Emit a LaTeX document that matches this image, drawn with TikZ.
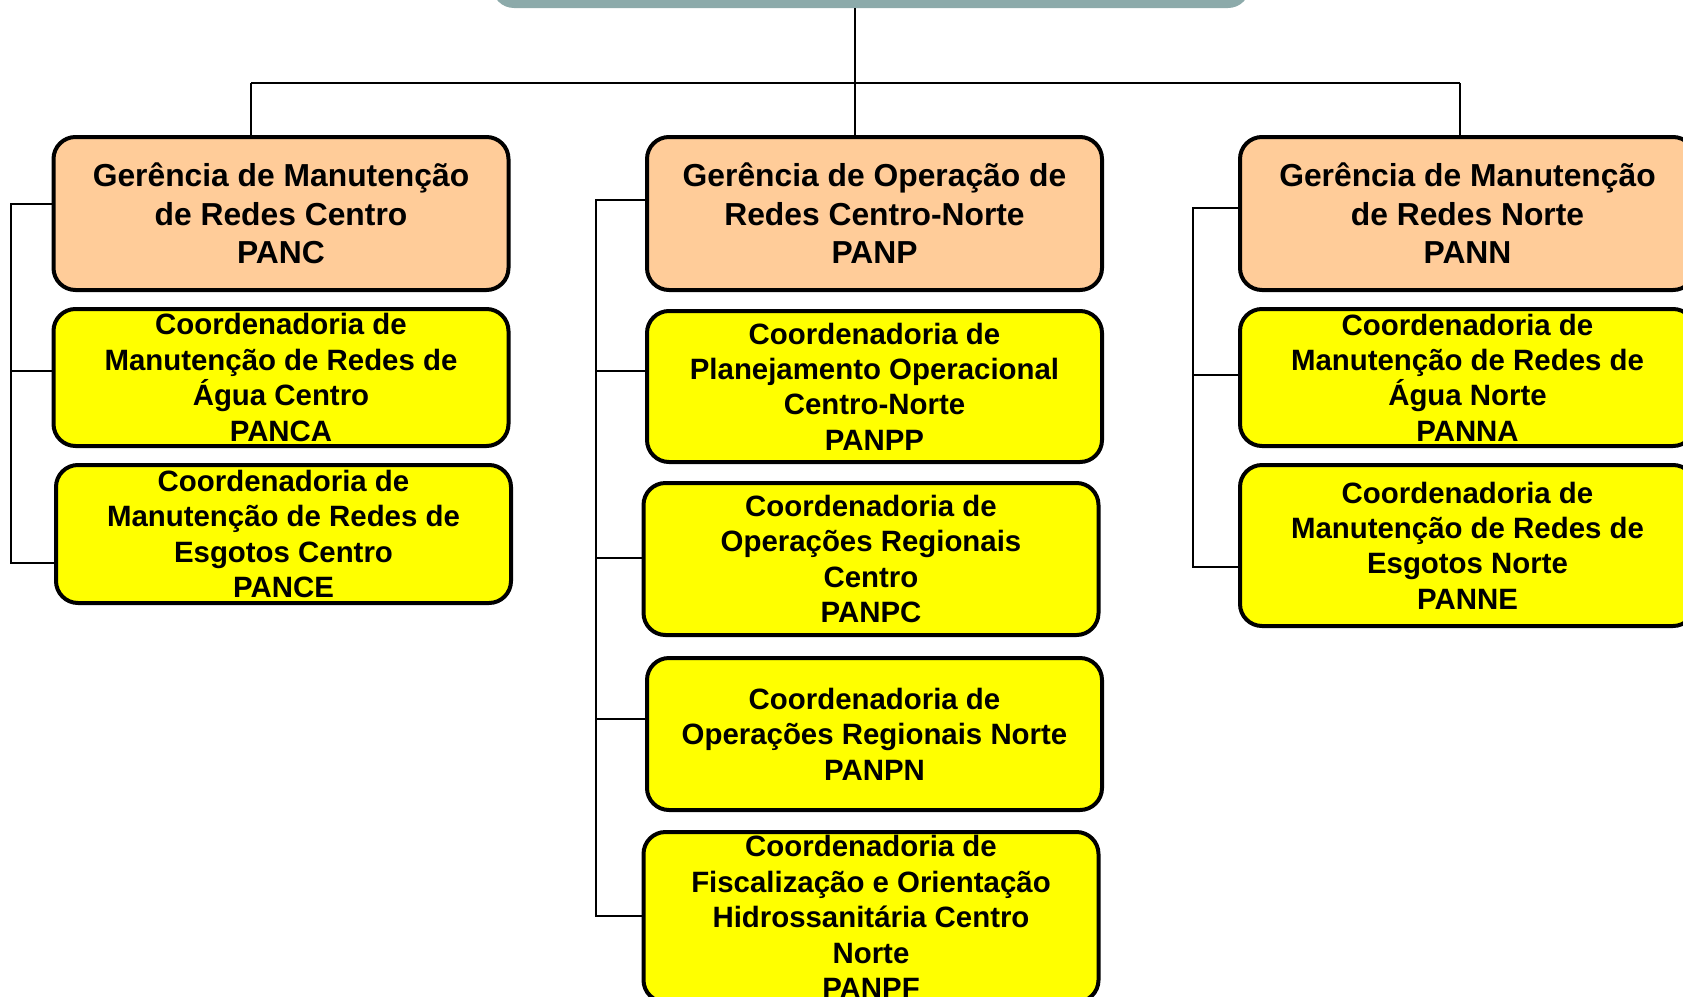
\documentclass[tikz,border=0pt]{standalone}
\usepackage{fontspec}
\setmainfont{Liberation Sans}
\usepackage{xcolor}
\definecolor{peach}{RGB}{255,204,153}
\definecolor{lemon}{RGB}{255,255,0}
\definecolor{slate}{RGB}{140,170,170}

\begin{document}
\begin{tikzpicture}[x=1pt, y=-1pt,
  box/.style={draw, line width=4pt, rounded corners=22pt, inner sep=0pt, minimum width=455pt},
  gerbox/.style={box, fill=peach, minimum height=153pt},
  coobox/.style={box, fill=lemon},
  gertext/.style={align=center, font=\bfseries\fontsize{31.8}{38.6}\selectfont},
  cootext/.style={align=center, font=\bfseries\fontsize{29.4}{35.4}\selectfont},
  link/.style={line width=1.4pt}]
\useasboundingbox (0,0) rectangle (1683,996);
\clip (0,0) rectangle (1683,996);

% Top (cut off)
\node[fill=slate, rounded corners=22pt, minimum width=758pt, minimum height=60pt] (top) at (871,-22) {};

% Gerencias
\node[gerbox] (panc) at (281,213.5) {};
\node[gertext] (panc-t) at (panc) {Gerência de Manutenção\\de Redes Centro\\PANC};
\node[gerbox] (panp) at (874.5,213.5) {};
\node[gertext] (panp-t) at (panp) {Gerência de Operação de\\Redes Centro-Norte\\PANP};
\node[gerbox] (pann) at (1467.5,213.5) {};
\node[gertext] (pann-t) at (pann) {Gerência de Manutenção\\de Redes Norte\\PANN};

% Coordenadorias - Centro
\node[coobox, minimum height=137pt] (panca) at (281,377.5) {};
\node[cootext] (panca-t) at (panca) {Coordenadoria de\\Manutenção de Redes de\\Água Centro\\PANCA};
\node[coobox, minimum height=138pt] (pance) at (283.5,534) {};
\node[cootext] (pance-t) at (pance) {Coordenadoria de\\Manutenção de Redes de\\Esgotos Centro\\PANCE};

% Coordenadorias - Centro-Norte
\node[coobox, minimum height=151pt] (panpp) at (874.5,386.5) {};
\node[cootext] (panpp-t) at (panpp) {Coordenadoria de\\Planejamento Operacional\\Centro-Norte\\PANPP};
\node[coobox, minimum height=152pt] (panpc) at (871,559) {};
\node[cootext] (panpc-t) at (panpc) {Coordenadoria de\\Operações Regionais\\Centro\\PANPC};
\node[coobox, minimum height=152pt] (panpn) at (874.5,734) {};
\node[cootext] (panpn-t) at (panpn) {Coordenadoria de\\Operações Regionais Norte\\PANPN};
\node[coobox, minimum height=170pt] (panpf) at (871,917) {};
\node[cootext] (panpf-t) at (panpf) {Coordenadoria de\\Fiscalização e Orientação\\Hidrossanitária Centro\\Norte\\PANPF};

% Coordenadorias - Norte
\node[coobox, minimum height=137pt] (panna) at (1467.5,377.5) {};
\node[cootext] (panna-t) at (panna) {Coordenadoria de\\Manutenção de Redes de\\Água Norte\\PANNA};
\node[coobox, minimum height=161pt] (panne) at (1467.5,545.5) {};
\node[cootext] (panne-t) at (panne) {Coordenadoria de\\Manutenção de Redes de\\Esgotos Norte\\PANNE};

% Bus from the top
\coordinate (busl) at (251,83);
\coordinate (busm) at (855,83);
\coordinate (busr) at (1460,83);
\draw[link] (busl) -- (busr);
\draw[link] (top.south -| busm) -- (busm);
\draw[link] (busl) -- (busl |- panc.north);
\draw[link] (busm) -- (busm |- panp.north);
\draw[link] (busr) -- (busr |- pann.north);

% Side brackets
\coordinate (brl) at (11,0);
\draw[link] (panc.west |- 0,204) -- (brl |- 0,204) -- (brl |- 0,563) -- (pance.west |- 0,563);
\draw[link] (brl |- 0,371) -- (panca.west |- 0,371);

\coordinate (brm) at (596,0);
\draw[link] (panp.west |- 0,200) -- (brm |- 0,200) -- (brm |- 0,916) -- (panpf.west |- 0,916);
\draw[link] (brm |- 0,371) -- (panpp.west |- 0,371);
\draw[link] (brm |- 0,558) -- (panpc.west |- 0,558);
\draw[link] (brm |- 0,719) -- (panpn.west |- 0,719);

\coordinate (brr) at (1193,0);
\draw[link] (pann.west |- 0,208) -- (brr |- 0,208) -- (brr |- 0,567) -- (panne.west |- 0,567);
\draw[link] (brr |- 0,375) -- (panna.west |- 0,375);
\end{tikzpicture}
\end{document}
